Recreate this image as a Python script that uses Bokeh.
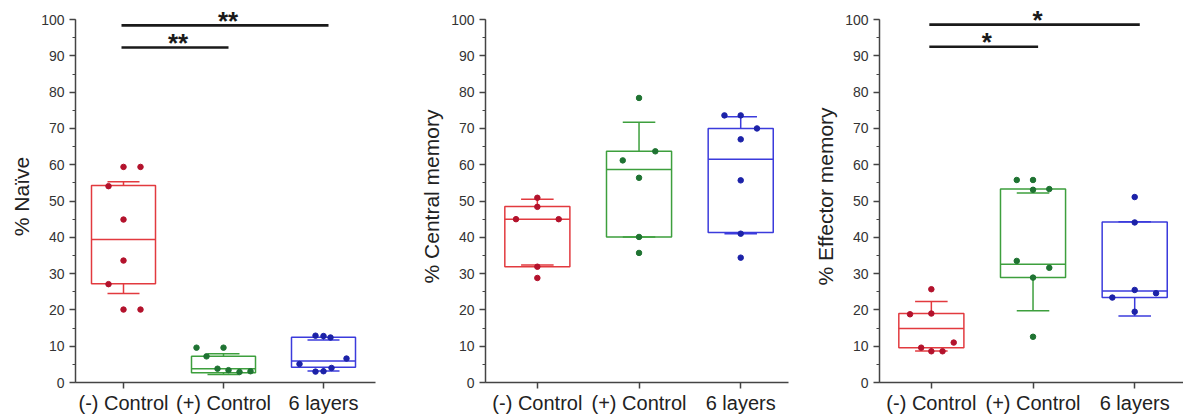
from bokeh.plotting import figure
from bokeh.layouts import row
from bokeh.models import ColumnDataSource, SingleIntervalTicker, FixedTicker, Range1d
from bokeh.embed import file_html
from bokeh.resources import INLINE
from bokeh.core.properties import value

categories = ["(-) Control", "(+) Control", "6 layers"]
box_colors = ["#e23a3f", "#3d9f3d", "#3b3bdc"]
point_colors = ["#b3122c", "#1f7332", "#1c22a8"]

# ---- Panel 1: % Naive ----
naive_q1 = [27.2, 2.7, 4.2]
naive_median = [39.4, 3.8, 5.9]
naive_q3 = [54.3, 7.2, 12.5]
naive_whisker_low = [24.5, 2.2, 3.2]
naive_whisker_high = [55.3, 7.9, 11.7]
naive_points = [
    [59.4, 59.4, 54.1, 44.9, 33.6, 27.1, 20.1, 20.1],
    [9.6, 9.6, 7.2, 3.8, 3.4, 2.9, 3.1],
    [12.9, 12.8, 12.4, 5.1, 6.6, 3.0, 3.1, 4.0],
]
naive_jitter = [
    [0.0, 0.17, -0.15, 0.0, 0.0, -0.15, 0.0, 0.17],
    [-0.27, 0.0, -0.17, -0.06, 0.05, 0.16, 0.27],
    [-0.08, 0.0, 0.07, -0.24, 0.23, -0.08, 0.0, 0.08],
]
naive_sig_pairs = [(1, 2), (1, 3)]
naive_sig_levels = [92.3, 98.4]
naive_sig_labels = ["**", "**"]

# ---- Panel 2: % Central memory ----
central_q1 = [31.9, 40.1, 41.3]
central_median = [45.0, 58.7, 61.5]
central_q3 = [48.5, 63.7, 70.0]
central_whisker_low = [32.4, 40.1, 41.0]
central_whisker_high = [50.5, 71.7, 73.2]
central_points = [
    [50.9, 48.4, 45.0, 45.0, 31.9, 28.8],
    [78.4, 61.2, 63.7, 56.4, 40.1, 35.7],
    [73.6, 73.6, 70.0, 67.0, 55.7, 41.0, 34.4],
]
central_jitter = [
    [0.0, 0.0, -0.21, 0.21, 0.0, 0.0],
    [0.0, -0.16, 0.16, 0.0, 0.0, 0.0],
    [-0.16, 0.0, 0.16, 0.0, 0.0, 0.0, 0.0],
]
central_sig_pairs = []
central_sig_levels = []
central_sig_labels = []

# ---- Panel 3: % Effector memory ----
effector_q1 = [9.6, 28.9, 23.4]
effector_median = [14.9, 32.6, 25.2]
effector_q3 = [19.0, 53.3, 44.2]
effector_whisker_low = [8.7, 19.8, 18.3]
effector_whisker_high = [22.3, 52.2, 44.3]
effector_points = [
    [25.7, 18.8, 19.0, 9.6, 8.6, 8.6, 11.0],
    [55.8, 55.8, 53.1, 53.3, 33.5, 31.6, 28.9, 12.6],
    [51.1, 44.1, 25.5, 23.4, 24.6, 19.5],
]
effector_jitter = [
    [0.0, -0.21, 0.0, -0.1, 0.0, 0.11, 0.22],
    [-0.16, 0.0, 0.0, 0.16, -0.16, 0.16, 0.0, 0.0],
    [0.0, 0.0, 0.0, -0.22, 0.21, 0.0],
]
effector_sig_pairs = [(1, 2), (1, 3)]
effector_sig_levels = [92.5, 98.6]
effector_sig_labels = ["*", "*"]

FONT = "Liberation Sans"
BOX_HALF = 0.32
CAP_HALF = 0.16


def make_panel(ylabel, q1, med, q3, wlo, whi, pts, jit, sig_pairs, sig_levels,
               sig_labels, xr, width, left, right):
    p = figure(width=width, height=416, output_backend="svg", toolbar_location=None,
               x_range=Range1d(*xr), y_range=Range1d(0, 102.5),
               min_border_left=left, min_border_right=right,
               min_border_top=10, min_border_bottom=33)
    p.outline_line_color = None
    p.xgrid.visible = False
    p.ygrid.visible = False
    p.background_fill_color = "white"

    xs = [i + 1 for i in range(len(categories))]
    src = ColumnDataSource(dict(
        x=xs,
        left=[x - BOX_HALF for x in xs], right=[x + BOX_HALF for x in xs],
        cl=[x - CAP_HALF for x in xs], cr=[x + CAP_HALF for x in xs],
        q1=q1, med=med, q3=q3, wlo=wlo, whi=whi, color=box_colors))

    p.quad(left="left", right="right", bottom="q1", top="q3", source=src,
           fill_color=None, line_color="color", line_width=1.5)
    p.segment(x0="left", x1="right", y0="med", y1="med", source=src,
              line_color="color", line_width=1.5)
    p.segment(x0="x", x1="x", y0="q3", y1="whi", source=src,
              line_color="color", line_width=1.5)
    p.segment(x0="x", x1="x", y0="q1", y1="wlo", source=src,
              line_color="color", line_width=1.5)
    p.segment(x0="cl", x1="cr", y0="whi", y1="whi", source=src,
              line_color="color", line_width=1.5)
    p.segment(x0="cl", x1="cr", y0="wlo", y1="wlo", source=src,
              line_color="color", line_width=1.5)

    for i, (vals, offs) in enumerate(zip(pts, jit)):
        p.scatter(x=[xs[i] + o for o in offs], y=vals, size=5.5,
                  fill_color=point_colors[i], line_color=point_colors[i])

    if sig_pairs:
        x0 = [a - 0.02 for a, b in sig_pairs]
        x1 = [b + 0.05 for a, b in sig_pairs]
        p.segment(x0=x0, x1=x1, y0=sig_levels, y1=sig_levels,
                  line_color="#1a1a1a", line_width=2.6)
        p.text(x=[(a + b) / 2 + 0.03 for a, b in zip(x0, x1)],
               y=[lv + 1.2 for lv in sig_levels], text=sig_labels,
               text_font=value(FONT), text_font_size="26px", text_font_style="bold",
               text_align="center", text_baseline="alphabetic", text_color="#1a1a1a")

    ya = p.yaxis[0]
    ya.ticker = SingleIntervalTicker(interval=10, num_minor_ticks=2)
    ya.bounds = (0, 100)
    ya.axis_label = ylabel
    ya.axis_label_text_font = FONT
    ya.axis_label_text_font_size = "21px"
    ya.axis_label_text_font_style = "normal"
    ya.axis_label_text_color = "#222222"
    ya.axis_label_standoff = 5
    ya.major_label_text_font = FONT
    ya.major_label_text_font_size = "14px"
    ya.major_label_text_color = "#333333"
    ya.major_label_standoff = 5
    ya.major_tick_out = 6
    ya.major_tick_in = 0
    ya.minor_tick_out = 3
    ya.minor_tick_in = 0
    ya.axis_line_width = 1.5
    ya.axis_line_color = "#444444"
    ya.major_tick_line_color = "#444444"
    ya.minor_tick_line_color = "#444444"
    ya.major_tick_line_width = 1.5

    xa = p.xaxis[0]
    xa.ticker = FixedTicker(ticks=xs, minor_ticks=[])
    xa.major_label_overrides = {x: c for x, c in zip(xs, categories)}
    xa.major_label_text_font = FONT
    xa.major_label_text_font_size = "20px"
    xa.major_label_text_color = "#222222"
    xa.major_label_standoff = 3
    xa.major_tick_out = 6
    xa.major_tick_in = 0
    xa.minor_tick_out = 0
    xa.minor_tick_in = 0
    xa.axis_line_width = 1.5
    xa.axis_line_color = "#444444"
    xa.major_tick_line_color = "#444444"
    xa.major_tick_line_width = 1.5
    return p


p1 = make_panel("% Naïve", naive_q1, naive_median, naive_q3, naive_whisker_low,
                naive_whisker_high, naive_points, naive_jitter, naive_sig_pairs,
                naive_sig_levels, naive_sig_labels, (0.52, 3.52), 400, 75, 25)
p2 = make_panel("% Central memory", central_q1, central_median, central_q3,
                central_whisker_low, central_whisker_high, central_points,
                central_jitter, central_sig_pairs, central_sig_levels,
                central_sig_labels, (0.49, 3.47), 400, 85, 12)
p3 = make_panel("% Effector memory", effector_q1, effector_median, effector_q3,
                effector_whisker_low, effector_whisker_high, effector_points,
                effector_jitter, effector_sig_pairs, effector_sig_levels,
                effector_sig_labels, (0.49, 3.48), 383, 79, 0)

layout = row(p1, p2, p3)
open("out.html", "w").write(file_html(layout, INLINE))
